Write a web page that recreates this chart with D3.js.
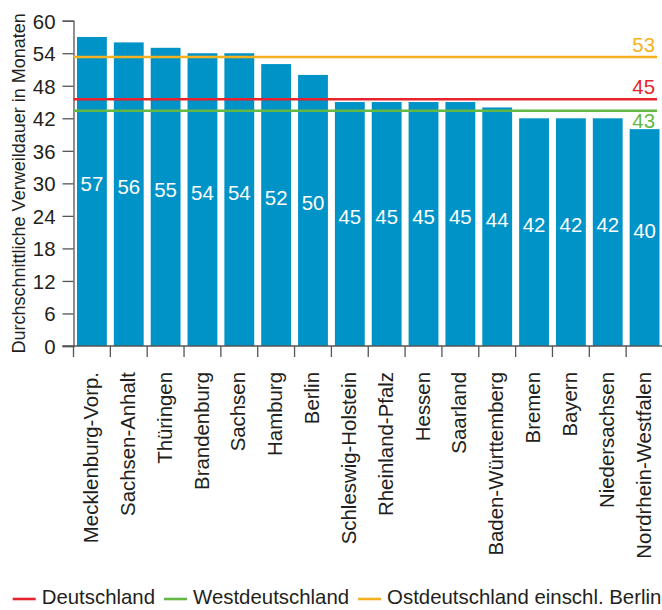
<!DOCTYPE html>
<html>
<head>
<meta charset="utf-8">
<script src="https://cdn.jsdelivr.net/npm/d3@7"></script>
<style>
  body { margin: 0; background: #fff; }
  svg { display: block; font-family: "Liberation Sans", Arial, sans-serif; }
</style>
</head>
<body>
<div class="chart"></div>
<script>
// data
var states = ["Mecklenburg-Vorp.", "Sachsen-Anhalt", "Thüringen", "Brandenburg", "Sachsen",
  "Hamburg", "Berlin", "Schleswig-Holstein", "Rheinland-Pfalz", "Hessen", "Saarland",
  "Baden-Württemberg", "Bremen", "Bayern", "Niedersachsen", "Nordrhein-Westfalen"];
var months = [57, 56, 55, 54, 54, 52, 50, 45, 45, 45, 45, 44, 42, 42, 42, 40];
var yTicks = [0, 6, 12, 18, 24, 30, 36, 42, 48, 54, 60];

// reference lines (averages)
var refNames = ["Deutschland", "Westdeutschland", "Ostdeutschland einschl. Berlin"];
var refValues = [45.5, 43.4, 53.3];
var refLabels = ["45", "43", "53"];
var refColors = ["#e8232e", "#62b745", "#f5b120"];

var width = 662, height = 610;
// plot area (note: "top" is taken by window.top, so use other names)
var plotLeft = 73.5, plotRight = 663, plotTop = 20.7, plotBottom = 346;
var textColor = "#231f20", axisColor = "#555";
var fontSize = "20.4px";

var svg = d3.select(".chart").append("svg")
    .attr("width", width)
    .attr("height", height);

var x = d3.scaleBand()
    .domain(states)
    .range([plotLeft, plotRight])
    .paddingInner(0.19)
    .paddingOuter(0.095);

var y = d3.scaleLinear()
    .domain([0, 60])
    .range([plotBottom, plotTop]);

// bars
svg.selectAll("rect.bar")
  .data(months)
  .enter().append("rect")
    .attr("class", "bar")
    .attr("x", function(d, i) { return x(states[i]); })
    .attr("y", function(d) { return y(d); })
    .attr("width", x.bandwidth())
    .attr("height", function(d) { return y(0) - y(d); })
    .style("fill", "#0093c7");

// values inside the bars, baseline at the middle of the bar
svg.selectAll("text.val")
  .data(months)
  .enter().append("text")
    .attr("class", "val")
    .attr("x", function(d, i) { return x(states[i]) + x.bandwidth() / 2; })
    .attr("y", function(d) { return (y(d) + y(0)) / 2; })
    .attr("text-anchor", "middle")
    .style("font-size", fontSize)
    .style("fill", "#fff")
    .text(function(d) { return d; });

// y axis
var yAxis = svg.append("g")
    .attr("transform", "translate(" + plotLeft + ",0)")
    .call(d3.axisLeft(y).tickValues(yTicks).tickSize(11).tickPadding(7));
yAxis.select(".domain").attr("stroke", axisColor).attr("stroke-width", 1.3);
yAxis.selectAll(".tick line").attr("stroke", axisColor).attr("stroke-width", 1.3);
yAxis.selectAll(".tick text")
    .style("font-size", fontSize)
    .style("font-family", "'Liberation Sans', Arial, sans-serif")
    .attr("fill", textColor)
    .attr("dy", "0.36em");

// x axis: baseline plus ticks at the band borders
svg.append("line")
    .attr("x1", plotLeft - 11).attr("x2", width)
    .attr("y1", y(0)).attr("y2", y(0))
    .attr("stroke", axisColor).attr("stroke-width", 1.3);

svg.selectAll("line.xtick")
  .data(d3.range(states.length + 1))
  .enter().append("line")
    .attr("class", "xtick")
    .attr("x1", function(i) { return plotLeft + i * x.step(); })
    .attr("x2", function(i) { return plotLeft + i * x.step(); })
    .attr("y1", y(0))
    .attr("y2", y(0) + 11)
    .attr("stroke", axisColor)
    .attr("stroke-width", 1.3);

svg.selectAll("text.xlab")
  .data(states)
  .enter().append("text")
    .attr("class", "xlab")
    .attr("transform", function(d) {
      return "translate(" + (x(d) + x.bandwidth() / 2) + "," + (y(0) + 26) + ") rotate(-90)";
    })
    .attr("dy", "0.3em")
    .attr("text-anchor", "end")
    .style("font-size", fontSize)
    .style("fill", textColor)
    .text(function(d) { return d; });

// y axis title
svg.append("text")
    .attr("transform", "translate(25," + ((plotTop + plotBottom) / 2) + ") rotate(-90)")
    .attr("text-anchor", "middle")
    .style("font-size", "18px")
    .style("fill", textColor)
    .text("Durchschnittliche Verweildauer in Monaten");

// average lines
var lineEnd = 657;
svg.selectAll("line.ref")
  .data(refValues)
  .enter().append("line")
    .attr("class", "ref")
    .attr("x1", plotLeft).attr("x2", lineEnd)
    .attr("y1", function(d) { return y(d); })
    .attr("y2", function(d) { return y(d); })
    .attr("stroke", function(d, i) { return refColors[i]; })
    .attr("stroke-width", 2.6);

svg.selectAll("text.ref")
  .data(refValues)
  .enter().append("text")
    .attr("class", "ref")
    .attr("x", lineEnd - 2)
    // West label sits below its line, the others above
    .attr("y", function(d, i) { return i == 1 ? y(d) + 17 : y(d) - 5; })
    .attr("text-anchor", "end")
    .style("font-size", fontSize)
    .style("fill", function(d, i) { return refColors[i]; })
    .text(function(d, i) { return refLabels[i]; });

// legend
var lx = 12.7, ly = 599;
refNames.forEach(function(name, i) {
  svg.append("line")
      .attr("x1", lx).attr("x2", lx + 23)
      .attr("y1", ly).attr("y2", ly)
      .attr("stroke", refColors[i])
      .attr("stroke-width", 2.6);
  var t = svg.append("text")
      .attr("x", lx + 29)
      .attr("y", ly + 4.5)
      .style("font-size", fontSize)
      .style("fill", textColor)
      .text(name);
  lx = lx + 29 + t.node().getComputedTextLength() + 9;
});
</script>
</body>
</html>
